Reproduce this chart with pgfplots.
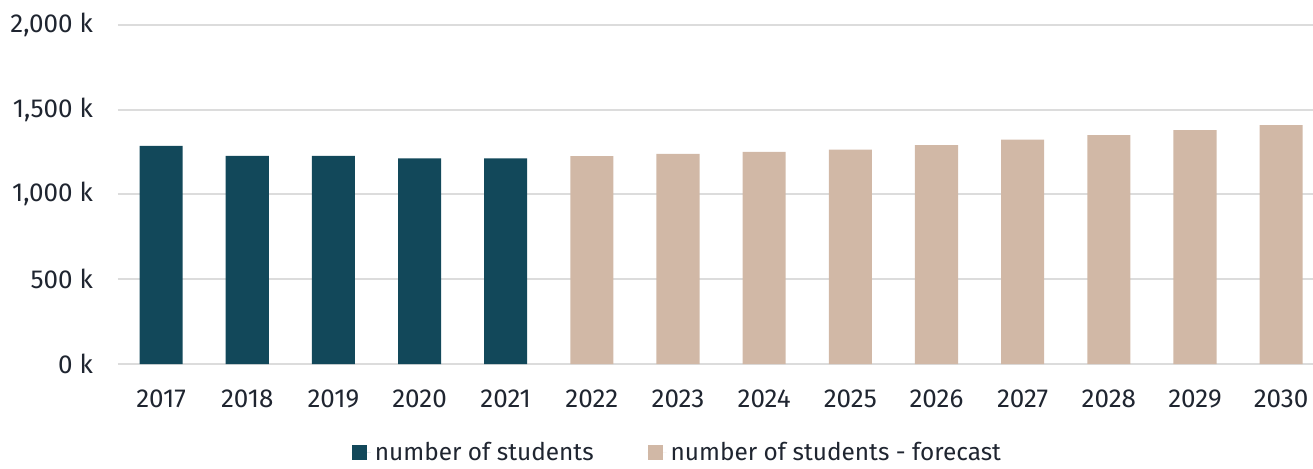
\documentclass[border=0pt]{standalone}
\usepackage{pgfplots}
\pgfplotsset{compat=1.18}
\usepackage{fontspec}
\setmainfont{Fira Sans}
\definecolor{hist}{HTML}{12485A}
\definecolor{fc}{HTML}{D1B8A6}
\definecolor{gridc}{HTML}{DCDCDC}
\definecolor{txt}{HTML}{1F2530}
\begin{document}
\begin{tikzpicture}
\path[use as bounding box] (-59pt,-52pt) rectangle (597.5pt,182pt);
\begin{axis}[
  scale only axis, width=597.5pt, height=169.65pt,
  xmin=-0.5, xmax=13.37, ymin=0, ymax=2000,
  axis line style={draw=none},
  major tick length=0pt,
  ymajorgrids, grid style={gridc, line width=1pt},
  xtick={0,...,13},
  xticklabels={2017,2018,2019,2020,2021,2022,2023,2024,2025,2026,2027,2028,2029,2030},
  ytick={0,500,1000,1500,2000},
  yticklabels={{0 k},{500 k},{1,000 k},{1,500 k},{2,000 k}},
  tick label style={font=\fontsize{13}{15}\selectfont, text=txt},
  yticklabel style={xshift=-9pt},
  xticklabel style={yshift=-9.5pt},
  ybar, bar width=0.5, bar shift=0pt,
  legend columns=2,
  legend style={at={(0.469,-0.262)}, anchor=center, draw=none, fill=none,
    font=\fontsize{12.2}{14}\selectfont, text=txt,
    /tikz/every even column/.append style={column sep=25pt}},
]
\addplot[fill=hist, draw=none, legend image code/.code={\fill[hist] (0pt,-3.75pt) rectangle (7.5pt,3.75pt); \path (0pt,0pt) -- (9.5pt,0pt);}]
  coordinates {(0,1286) (1,1227) (2,1227) (3,1212) (4,1212)};
\addlegendentry{number of students}
\addplot[fill=fc, draw=none, legend image code/.code={\fill[fc] (0pt,-3.75pt) rectangle (7.5pt,3.75pt); \path (0pt,0pt) -- (9.5pt,0pt);}]
  coordinates {(5,1225) (6,1239) (7,1251) (8,1263) (9,1290) (10,1322) (11,1349) (12,1378) (13,1408)};
\addlegendentry{number of students - forecast}
\end{axis}
\end{tikzpicture}
\end{document}
